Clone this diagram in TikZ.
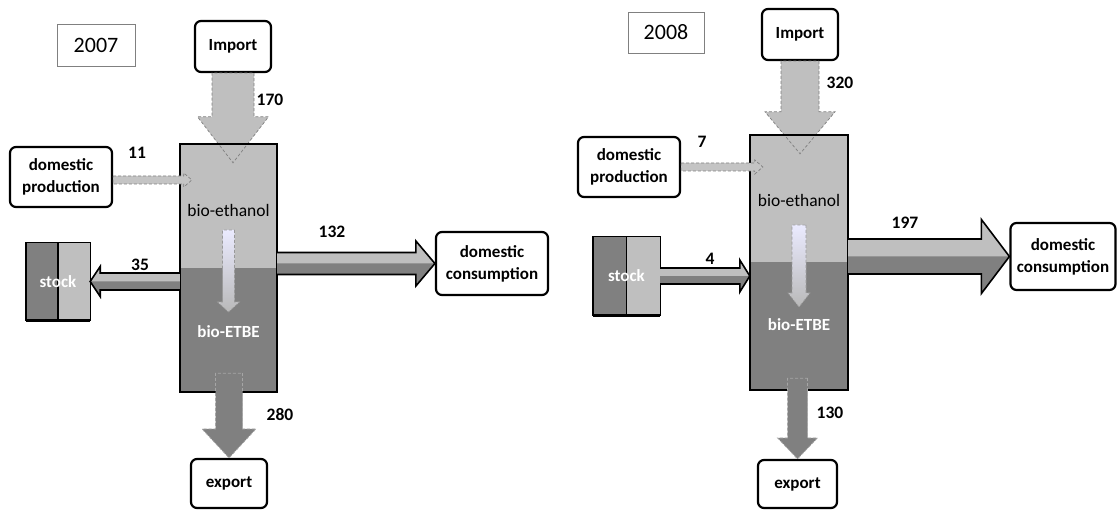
\documentclass[tikz,border=0pt]{standalone}
\usepackage{fontspec}
\setmainfont{Carlito}
\usetikzlibrary{calc}
\definecolor{lg}{HTML}{BFBFBF}
\definecolor{dg}{HTML}{808080}
\definecolor{dpf}{HTML}{C4C4C4}

% #1 style, #2 from, #3 to, #4 half shaft, #5 half head, #6 head length
\newcommand{\blockarrow}[6]{%
  \coordinate (ba-h) at ($(#3)!#6pt!(#2)$);
  \path[#1] ($(#2)!#4pt!90:(#3)$) -- ($(ba-h)!#4pt!90:(#3)$) -- ($(ba-h)!#5pt!90:(#3)$)
    -- (#3) -- ($(ba-h)!#5pt!-90:(#3)$) -- ($(ba-h)!#4pt!-90:(#3)$) -- ($(#2)!#4pt!-90:(#3)$) -- cycle;
}
% two-tone arrow: #1 from, #2 to, #3 half shaft, #4 half head, #5 head length, #6 light side angle
\newcommand{\twotone}[6]{%
  \coordinate (tt-h) at ($(#2)!#5pt!(#1)$);
  \fill[dg] ($(#1)!#3pt!90:(#2)$) -- ($(tt-h)!#3pt!90:(#2)$) -- ($(tt-h)!#4pt!90:(#2)$)
    -- (#2) -- ($(tt-h)!#4pt!-90:(#2)$) -- ($(tt-h)!#3pt!-90:(#2)$) -- ($(#1)!#3pt!-90:(#2)$) -- cycle;
  \fill[lg] (#1) -- ($(#1)!#3pt!#6:(#2)$) -- ($(tt-h)!#3pt!#6:(#2)$) -- ($(tt-h)!#4pt!#6:(#2)$) -- (#2) -- cycle;
  \draw[black, line width=1.6pt, line join=miter] ($(#1)!#3pt!90:(#2)$) -- ($(tt-h)!#3pt!90:(#2)$) -- ($(tt-h)!#4pt!90:(#2)$)
    -- (#2) -- ($(tt-h)!#4pt!-90:(#2)$) -- ($(tt-h)!#3pt!-90:(#2)$) -- ($(#1)!#3pt!-90:(#2)$);
}

\begin{document}
\begin{tikzpicture}[x=1pt,y=-1pt,
  rbox/.style={draw=black, line width=2.2pt, rounded corners=6pt, fill=white, align=center,
    font=\bfseries\fontsize{17}{22}\selectfont, inner sep=0pt},
  yearbox/.style={draw=gray, line width=0.9pt, fill=white, inner sep=0pt, font=\fontsize{22}{24}\selectfont},
  mainbox/.style={fill=lg, inner sep=0pt},
  lbl/.style={font=\bfseries\fontsize{17.5}{19}\selectfont, inner sep=0pt},
  intext/.style={font=\fontsize{17.5}{19}\selectfont, inner sep=0pt},
  etbetext/.style={font=\bfseries\fontsize{17}{19}\selectfont, text=white, inner sep=0pt},
  impflow/.style={fill=lg, draw=gray, densely dashed, line width=0.7pt},
  expflow/.style={fill=dg, draw=gray!70, densely dashed, line width=0.7pt},
  dpflow/.style={fill=dpf, draw=gray, densely dashed, line width=0.7pt},
  inflow/.style={top color=blue!8!white, bottom color=gray!55, draw=gray!80, densely dashed, line width=0.6pt},
  stockbox/.style={inner sep=0pt, font=\bfseries\fontsize{17}{19}\selectfont, text=white}
]
\useasboundingbox (0,0) rectangle (1118,510);

% ===================== 2007 =====================
\node[yearbox, minimum width=78pt, minimum height=42pt] (yr1) at (96,45) {2007};
\node[mainbox, minimum width=97pt, minimum height=248pt] (m1) at (228.5,268) {};
\fill[dg] (m1.west) rectangle (m1.south east);
\node[rbox, minimum width=76pt, minimum height=51pt] (imp1) at (233,46.5) {Import};
\node[rbox, minimum width=102pt, minimum height=60pt] (dp1) at (61,177) {domestic\\production};
\node[rbox, minimum width=112pt, minimum height=63pt] (dc1) at (492,263.5) {domestic\\consumption};
\node[rbox, minimum width=76pt, minimum height=49pt] (ex1) at (229,483.5) {export};
% stock
\node[stockbox, minimum width=64pt, minimum height=77pt] (st1) at (58,281.5) {};
\fill[dg] (st1.south west) rectangle (st1.north);
\fill[lg] (st1.south) rectangle (st1.north east);
\draw[line width=1.4pt] (st1.south west) rectangle (st1.north east);
\draw[line width=1.4pt] (st1.north) -- (st1.south);
\draw[line width=3pt] (st1.south west) -- (st1.south east);
\node[stockbox] at (st1.center) {stock};

\coordinate (imp1tip) at ($(imp1.south |- m1.north)+(0,19)$);
\blockarrow{impflow}{imp1.south}{imp1tip}{21}{35.5}{46}
\draw[line width=2pt] (m1.south west) rectangle (m1.north east);
\coordinate (dp1start) at ($(dp1.east)+(0,3)$);
\coordinate (dp1tip) at ($(dp1start -| m1.west)+(12,0)$);
\blockarrow{dpflow}{dp1start}{dp1tip}{4}{7}{8}
\coordinate (dc1start) at (m1.east |- dc1.west);
\twotone{dc1start}{dc1.west}{11}{22.5}{19}{90}
\coordinate (st1start) at (m1.west |- st1.east);
\twotone{st1start}{st1.east}{8.5}{15}{10}{-90}
\coordinate (ex1start) at ($(ex1.north |- m1.south)+(0,-19)$);
\blockarrow{expflow}{ex1start}{ex1.north}{13.5}{27}{29}
\coordinate (in1a) at ($(m1.center)+(0,-38)$);
\coordinate (in1b) at ($(m1.center)+(0,44)$);
\blockarrow{inflow}{in1a}{in1b}{6}{11}{10}

\node[intext] at ($(m1.center)+(0,-58)$) {bio-ethanol};
\node[etbetext] at ($(m1.center)+(0,64)$) {bio-ETBE};

\node[lbl] at (270,100) {170};
\node[lbl] at (137,153) {11};
\node[lbl] at (332,232) {132};
\node[lbl] at (140,265) {35};
\node[lbl] at (280,415) {280};

% ===================== 2008 =====================
\node[yearbox, minimum width=76pt, minimum height=41pt] (yr2) at (666,32.5) {2008};
\node[mainbox, minimum width=98pt, minimum height=255pt] (m2) at (799,262.5) {};
\fill[dg] (m2.west) rectangle (m2.south east);
\node[rbox, minimum width=76pt, minimum height=51pt] (imp2) at (800,34.5) {Import};
\node[rbox, minimum width=102pt, minimum height=60pt] (dp2) at (629,167) {domestic\\production};
\node[rbox, minimum width=105pt, minimum height=67pt] (dc2) at (1063,256.5) {domestic\\consumption};
\node[rbox, minimum width=79pt, minimum height=48pt] (ex2) at (797.5,484) {export};
% stock
\node[stockbox, minimum width=67pt, minimum height=78pt] (st2) at (626.5,276) {};
\fill[dg] (st2.south west) rectangle (st2.north);
\fill[lg] (st2.south) rectangle (st2.north east);
\draw[line width=1.4pt] (st2.south west) rectangle (st2.north east);
\draw[line width=1.4pt] (st2.north) -- (st2.south);
\draw[line width=3pt] (st2.south west) -- (st2.south east);
\node[stockbox] at (st2.center) {stock};

\coordinate (imp2tip) at ($(imp2.south |- m2.north)+(0,19)$);
\blockarrow{impflow}{imp2.south}{imp2tip}{19}{35}{42}
\draw[line width=2pt] (m2.south west) rectangle (m2.north east);
\coordinate (dp2tip) at ($(dp2.east -| m2.west)+(13,0)$);
\blockarrow{dpflow}{dp2.east}{dp2tip}{4}{7}{8}
\coordinate (dc2start) at (m2.east |- dc2.west);
\twotone{dc2start}{dc2.west}{17.5}{37}{28}{90}
\coordinate (st2end) at (m2.west |- st2.east);
\twotone{st2.east}{st2end}{8}{16}{10}{90}
\coordinate (ex2start) at ($(ex2.north |- m2.south)+(0,-12)$);
\blockarrow{expflow}{ex2start}{ex2.north}{10}{20}{21}
\coordinate (in2a) at ($(m2.center)+(0,-37.5)$);
\coordinate (in2b) at ($(m2.center)+(0,44.5)$);
\blockarrow{inflow}{in2a}{in2b}{7}{11}{14}

\node[intext] at ($(m2.center)+(0,-62.5)$) {bio-ethanol};
\node[etbetext] at ($(m2.center)+(0,62.5)$) {bio-ETBE};

\node[lbl] at (840,83) {320};
\node[lbl] at (702,142) {7};
\node[lbl] at (905,223) {197};
\node[lbl] at (710,259) {4};
\node[lbl] at (830,413) {130};
\end{tikzpicture}
\end{document}
